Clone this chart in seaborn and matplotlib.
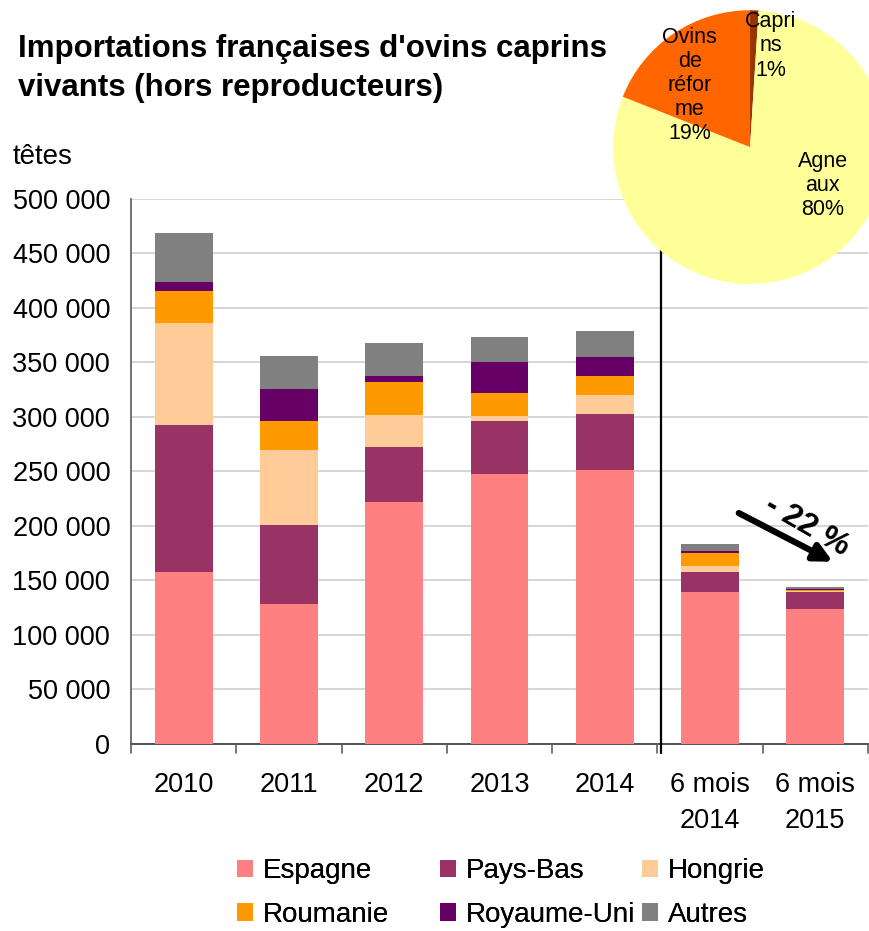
import numpy as np
import pandas as pd
import matplotlib
matplotlib.use("Agg")
import matplotlib.pyplot as plt
import seaborn as sns
from matplotlib.patches import Patch

periodes = ["2010", "2011", "2012", "2013", "2014", "6 mois\n2014", "6 mois\n2015"]
espagne = [158000, 128000, 222000, 248000, 251000, 139000, 124000]
pays_bas = [135000, 73000, 50000, 48000, 52000, 19000, 15000]
hongrie = [93000, 69000, 30000, 5000, 17000, 5000, 1500]
roumanie = [30000, 26000, 30000, 21000, 18000, 12000, 800]
royaume_uni = [8000, 30000, 6000, 28000, 17000, 2000, 500]
autres = [45000, 30000, 30000, 23000, 24000, 6000, 2500]

pays = ["Espagne", "Pays-Bas", "Hongrie", "Roumanie", "Royaume-Uni", "Autres"]
couleurs = ["#FF8080", "#993366", "#FFCC99", "#FF9900", "#660066", "#808080"]

pie_labels = ["Capri\nns\n1%", "Agne\naux\n80%", "Ovins\nde\nréfor\nme\n19%"]
pie_values = [1, 80, 19]
pie_colors = ["#993300", "#FFFF99", "#FF6600"]

df = pd.DataFrame({"periode": periodes, "Espagne": espagne, "Pays-Bas": pays_bas,
                   "Hongrie": hongrie, "Roumanie": roumanie,
                   "Royaume-Uni": royaume_uni, "Autres": autres})
cum = df[pays].cumsum(axis=1)
cum["periode"] = periodes

sns.set_theme(style="white")
plt.rcParams['font.family'] = ['Liberation Sans', 'DejaVu Sans']
plt.rcParams['text.color'] = 'black'
plt.rcParams['xtick.color'] = 'black'
plt.rcParams['ytick.color'] = 'black'

fig = plt.figure(figsize=(8.7, 9.31), dpi=100)
ax = fig.add_axes([0.1506, 0.2009, 0.847, 0.5854])

# stacked bars drawn as overlapping cumulative bars, tallest first
for p, c in zip(reversed(pays), reversed(couleurs)):
    sns.barplot(data=cum, x="periode", y=p, color=c, width=0.55,
                saturation=1, linewidth=0, ax=ax, zorder=3)

ax.set_ylim(0, 500000)
ax.set_xlim(-0.5, 6.5)
ax.set_yticks(np.arange(0, 500001, 50000))
ax.set_yticklabels([f"{v:,}".replace(",", " ") for v in range(0, 500001, 50000)],
                   fontsize=19.5)
ax.yaxis.grid(True, color="#D0D0D0", linewidth=1.2, zorder=0)
ax.set_axisbelow(True)
ax.set_xlabel("")
ax.set_ylabel("")
ax.set_xticks(np.arange(7))
ax.set_xticklabels(periodes, fontsize=19.5, linespacing=1.5)
ax.tick_params(axis="x", length=0, pad=20)
ax.tick_params(axis="y", length=0, pad=15)
for b in np.arange(-0.5, 7, 1):
    ax.plot([b, b], [0, -8000], color="#606060", lw=1.2, clip_on=False, zorder=4)
for s in ["top", "right"]:
    ax.spines[s].set_visible(False)
ax.spines["left"].set_color("#606060")
ax.spines["bottom"].set_color("#404040")

# separator between years and half-years
ax.plot([4.53, 4.53], [-8000, 560000], color="black", lw=1.6, clip_on=False, zorder=5)

# evolution arrow
ax.annotate("", xy=(6.19, 166000), xytext=(5.25, 213000),
            arrowprops=dict(arrowstyle="-|>,head_length=0.9,head_width=0.45",
                            color="black", lw=4.5), zorder=6)
ax.text(5.92, 200000, "- 22 %", rotation=-30, fontsize=23, fontweight="bold",
        ha="center", va="center", zorder=6)

fig.text(0.021, 0.963, "Importations françaises d'ovins caprins\nvivants (hors reproducteurs)",
         fontsize=22.5, fontweight="bold", ha="left", va="top", linespacing=1.38)
fig.text(0.014, 0.8314, "têtes", fontsize=20, ha="left", va="center")

# legend: one column per legend so columns sit at equal spacing
cols = [(0, 3), (1, 4), (2, 5)]
col_x = [0.2724, 0.5057, 0.7379]
for (i, j), x0 in zip(cols, col_x):
    leg = fig.legend([Patch(facecolor=couleurs[i], edgecolor="none"),
                      Patch(facecolor=couleurs[j], edgecolor="none")],
                     [pays[i], pays[j]], loc="upper left", bbox_to_anchor=(x0, 0.078),
                     frameon=False, fontsize=20, borderpad=0, borderaxespad=0,
                     handlelength=0.59, handleheight=0.59, handletextpad=0.35,
                     labelspacing=0.62)
    fig.add_artist(leg)

# inset pie
pax = fig.add_axes([0.7046, 0.695, 0.315, 0.294])
pax.pie(pie_values, colors=pie_colors, startangle=90, counterclock=False,
        wedgeprops=dict(linewidth=0))
pax.set_xlim(-1, 1)
pax.set_ylim(-1, 1)
pax.set_aspect("equal")
pax.set_zorder(10)
pie_pos = [(0.15, 0.74), (0.53, -0.28), (-0.44, 0.45)]
for (px, py), lab in zip(pie_pos, pie_labels):
    pax.text(px, py, lab, ha="center", va="center", fontsize=15.5, linespacing=1.2)

fig.savefig("out.png", dpi=100)
